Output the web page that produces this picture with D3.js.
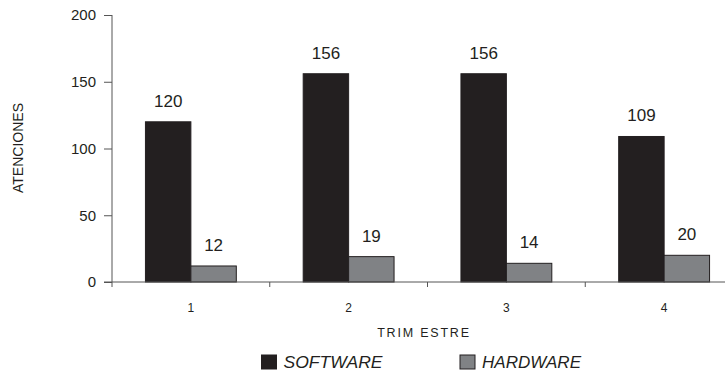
<!DOCTYPE html>
<html><head><meta charset="utf-8">
<script src="https://cdn.jsdelivr.net/npm/d3@7"></script>
<style>
body{margin:0;background:#fff;}
text{font-family:"Liberation Sans",Arial,sans-serif;fill:#231f20;}
</style></head>
<body>
<svg id="chart" width="725" height="371"></svg>
<script>
const categories = ["1","2","3","4"];
const seriesNames = ["SOFTWARE","HARDWARE"];
const software = [120,156,156,109];
const hardware = [12,19,14,20];
const yTicks = [0,50,100,150,200];
const colors = {SOFTWARE:"#231f20", HARDWARE:"#808285"};

const svg = d3.select("#chart");
const x = d3.scaleBand().domain(categories).range([112, 743]).padding(0);
const bw = x.bandwidth();
const xs = d3.scaleBand().domain(seriesNames).range([bw*0.212, bw*0.788]).padding(0);
const y = d3.scaleLinear().domain([0,200]).range([282,15]);

const data = categories.map((c,i)=>({cat:c, vals:[{s:"SOFTWARE",v:software[i]},{s:"HARDWARE",v:hardware[i]}]}));

// bars
const g = svg.append("g").selectAll("g").data(data).join("g")
  .attr("transform", d=>`translate(${x(d.cat)},0)`);
g.selectAll("rect").data(d=>d.vals).join("rect")
  .attr("x", d=>xs(d.s)).attr("width", xs.bandwidth())
  .attr("y", d=>y(d.v)).attr("height", d=>y(0)-y(d.v))
  .attr("fill", d=>colors[d.s]).attr("stroke","#231f20").attr("stroke-width",1);
g.selectAll("text.val").data(d=>d.vals).join("text").attr("class","val")
  .attr("x", d=>xs(d.s)+xs.bandwidth()/2).attr("y", d=>y(d.v)-15)
  .attr("text-anchor","middle").attr("font-size",17).text(d=>d.v);

// y axis
const yAxis = d3.axisLeft(y).tickValues(yTicks).tickSize(8).tickPadding(8);
const ya = svg.append("g").attr("transform","translate(112,0)").call(yAxis);
ya.select(".domain").attr("stroke","#555").attr("d","M0,15V282");
ya.selectAll(".tick line").attr("stroke","#555");
ya.selectAll(".tick text").attr("font-size",15).attr("fill","#231f20").attr("font-family","Liberation Sans, Arial, sans-serif");

// x axis
const xa = svg.append("g").attr("transform","translate(0,282)");
xa.append("line").attr("x1",104).attr("x2",725).attr("y1",0).attr("y2",0).attr("stroke","#555");
xa.selectAll("line.tk").data(categories).join("line").attr("class","tk")
  .attr("x1",d=>x(d)).attr("x2",d=>x(d)).attr("y1",0).attr("y2",5).attr("stroke","#555");
xa.selectAll("text").data(categories).join("text")
  .attr("x",d=>x(d)+bw/2).attr("y",30).attr("text-anchor","middle").attr("font-size",12).text(d=>d);

// axis titles
svg.append("text").attr("transform","translate(23,148) rotate(-90)")
  .attr("text-anchor","middle").attr("font-size",14).text("ATENCIONES");
svg.append("text").attr("x",424).attr("y",337).attr("text-anchor","middle")
  .attr("font-size",12.5).attr("letter-spacing","1.8px").text("TRIM ESTRE");

// legend
const legX = [261.5, 460];
const lg = svg.append("g").selectAll("g").data(seriesNames).join("g")
  .attr("transform",(d,i)=>`translate(${legX[i]},355)`);
lg.append("rect").attr("width",15).attr("height",14).attr("fill",d=>colors[d]).attr("stroke","#231f20");
lg.append("text").attr("x",22).attr("y",13.3).attr("font-size",16).attr("font-style","italic")
  .attr("textLength",99).attr("lengthAdjust","spacingAndGlyphs").text(d=>d);
</script>
</body></html>
